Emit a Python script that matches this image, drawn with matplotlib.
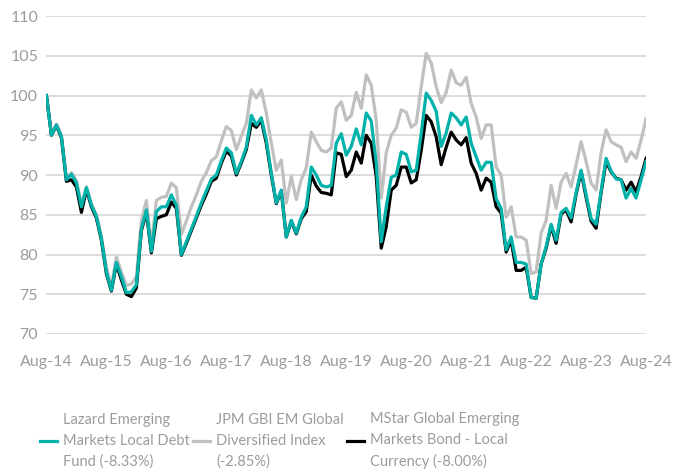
import numpy as np
import matplotlib.pyplot as plt
from matplotlib import font_manager

# monthly index values, Aug-14 = 100
lazard = [100.0, 95.0, 96.3, 94.8, 89.4, 90.1, 89.0, 86.0, 88.4, 86.2,
          84.8, 82.0, 77.8, 75.5, 79.0, 77.2, 75.2, 75.3, 76.2, 83.2,
          85.6, 80.4, 85.4, 86.0, 86.0, 87.5, 86.2, 80.0, 81.6, 83.2,
          84.8, 86.5, 88.0, 89.5, 90.0, 91.8, 93.4, 92.8, 90.2, 91.7,
          93.5, 97.5, 96.3, 97.2, 94.4, 90.2, 86.5, 88.1, 82.2, 84.3,
          82.7, 84.7, 86.0, 91.0, 90.0, 88.7, 88.5, 88.7, 94.0, 95.2,
          92.5, 93.6, 95.8, 93.8, 97.8, 96.8, 91.5, 81.6, 86.0, 89.7,
          90.0, 92.9, 92.6, 90.4, 90.6, 95.2, 100.3, 99.4, 98.0, 93.6,
          95.3, 97.8, 97.2, 96.3, 97.3, 94.0, 92.3, 90.6, 91.6, 91.6,
          87.0, 85.8, 80.6, 82.2, 79.0, 79.0, 78.8, 74.6, 74.5, 78.8,
          81.0, 83.8, 81.8, 85.3, 85.8, 84.6, 87.8, 90.6, 87.5, 84.5,
          83.8, 88.0, 92.1, 90.5, 89.5, 89.4, 87.1, 88.3, 87.1, 89.4,
          91.7]

jpm = [100.0, 95.2, 96.4, 95.0, 89.6, 90.3, 89.3, 86.3, 88.5, 86.4,
       85.0, 82.3, 78.3, 76.0, 79.7, 77.8, 76.1, 76.3, 77.2, 84.3,
       86.8, 81.0, 86.8, 87.2, 87.3, 89.0, 88.4, 82.5, 84.2, 86.0,
       87.5, 89.2, 90.3, 91.8, 92.3, 94.3, 96.1, 95.6, 93.2, 94.9,
       96.5, 100.7, 99.7, 100.7, 97.8, 94.0, 90.6, 91.9, 86.5, 89.8,
       86.9, 89.4, 90.9, 95.4, 94.2, 93.1, 92.9, 93.4, 98.4, 99.2,
       96.9, 97.5, 100.4, 98.4, 102.6, 101.3, 96.9, 87.1, 92.8, 95.0,
       95.9, 98.2, 97.9, 96.0, 96.5, 101.1, 105.3, 104.1, 101.1, 99.1,
       100.4, 103.2, 101.6, 101.3, 102.3, 99.0, 97.3, 94.6, 96.3, 96.3,
       91.0, 90.0, 84.7, 86.0, 82.2, 82.2, 81.8, 77.6, 77.8, 82.7,
       84.3, 88.7, 85.8, 89.1, 90.2, 88.5, 91.3, 94.2, 91.7, 89.0,
       88.1, 92.8, 95.7, 94.2, 93.8, 93.5, 91.7, 92.9, 92.1, 94.4,
       97.1]

mstar = [100.0, 95.0, 96.2, 94.7, 89.2, 89.4, 88.5, 85.3, 88.2, 86.0,
         84.6, 81.8, 77.6, 75.4, 78.8, 76.8, 75.0, 74.7, 75.8, 83.0,
         85.3, 80.2, 84.5, 84.8, 85.0, 86.6, 85.8, 79.9, 81.4, 83.0,
         84.6, 86.2, 87.6, 89.2, 89.6, 91.5, 93.0, 92.4, 90.0, 91.5,
         93.2, 96.5, 96.0, 96.9, 94.0, 90.0, 86.4, 88.0, 82.2, 84.2,
         82.6, 84.5, 85.4, 90.0, 88.6, 87.8, 87.7, 87.5, 92.8, 92.6,
         89.8, 90.6, 92.9, 91.5, 95.0, 94.0, 89.8, 80.8, 83.5, 88.1,
         88.7, 91.0, 91.0, 89.0, 89.4, 93.1, 97.5, 96.7, 94.8, 91.3,
         93.5, 95.4, 94.4, 93.8, 94.7, 91.5, 90.2, 88.1, 89.6, 89.1,
         86.0, 85.2, 80.3, 81.8, 78.0, 78.0, 78.4, 74.6, 74.5, 78.8,
         80.8, 83.6, 81.4, 85.1, 85.6, 84.1, 87.6, 90.4, 87.2, 84.2,
         83.3, 87.8, 91.7, 90.4, 89.6, 89.4, 88.1, 89.1, 87.9, 89.8,
         92.1]

year_labels = ["Aug-14", "Aug-15", "Aug-16", "Aug-17", "Aug-18", "Aug-19",
               "Aug-20", "Aug-21", "Aug-22", "Aug-23", "Aug-24"]
series_names = ["Lazard Emerging\nMarkets Local Debt\nFund (-8.33%)",
                "JPM GBI EM Global\nDiversified Index\n(-2.85%)",
                "MStar Global Emerging\nMarkets Bond - Local\nCurrency (-8.00%)"]

fams = {f.name for f in font_manager.fontManager.ttflist}
plt.rcParams['font.family'] = ['Lato' if 'Lato' in fams else 'DejaVu Sans']

TEAL = '#00b2a9'
GREY = '#c0c0c0'
TXT = '#9c9c9c'

fig = plt.figure(figsize=(6.73, 4.72), dpi=100)
ax = fig.add_axes([0.069, 0.2924, 0.891, 0.6736])

x = np.arange(len(lazard))
ax.plot(x, jpm, color=GREY, lw=2.3, label=series_names[1], zorder=3)
ax.plot(x, mstar, color='black', lw=2.3, label=series_names[2], zorder=4)
ax.plot(x, lazard, color=TEAL, lw=2.3, label=series_names[0], zorder=5)

ax.set_xlim(0, 120)
ax.set_ylim(70, 110)
ax.set_yticks(np.arange(70, 111, 5))
ax.set_xticks(np.arange(0, 121, 12))
ax.set_xticklabels(year_labels)
ax.grid(axis='y', color='#d9d9d9', lw=1.3)
ax.set_axisbelow(True)
for s in ax.spines.values():
    s.set_visible(False)
ax.tick_params(axis='both', length=0, labelsize=11.5, labelcolor=TXT)
ax.tick_params(axis='x', pad=15)
ax.tick_params(axis='y', pad=6)

h, l = ax.get_legend_handles_labels()
order = [2, 0, 1]
leg = fig.legend([h[i] for i in order], [l[i] for i in order],
                 loc='lower left', bbox_to_anchor=(0.04, -0.022), ncol=3,
                 frameon=False, fontsize=10.5, labelcolor=TXT,
                 handlelength=1.15, handletextpad=0.45, columnspacing=0.2)
for t in leg.get_texts():
    t.set_linespacing(1.6)

fig.savefig('out.png', dpi=100)
